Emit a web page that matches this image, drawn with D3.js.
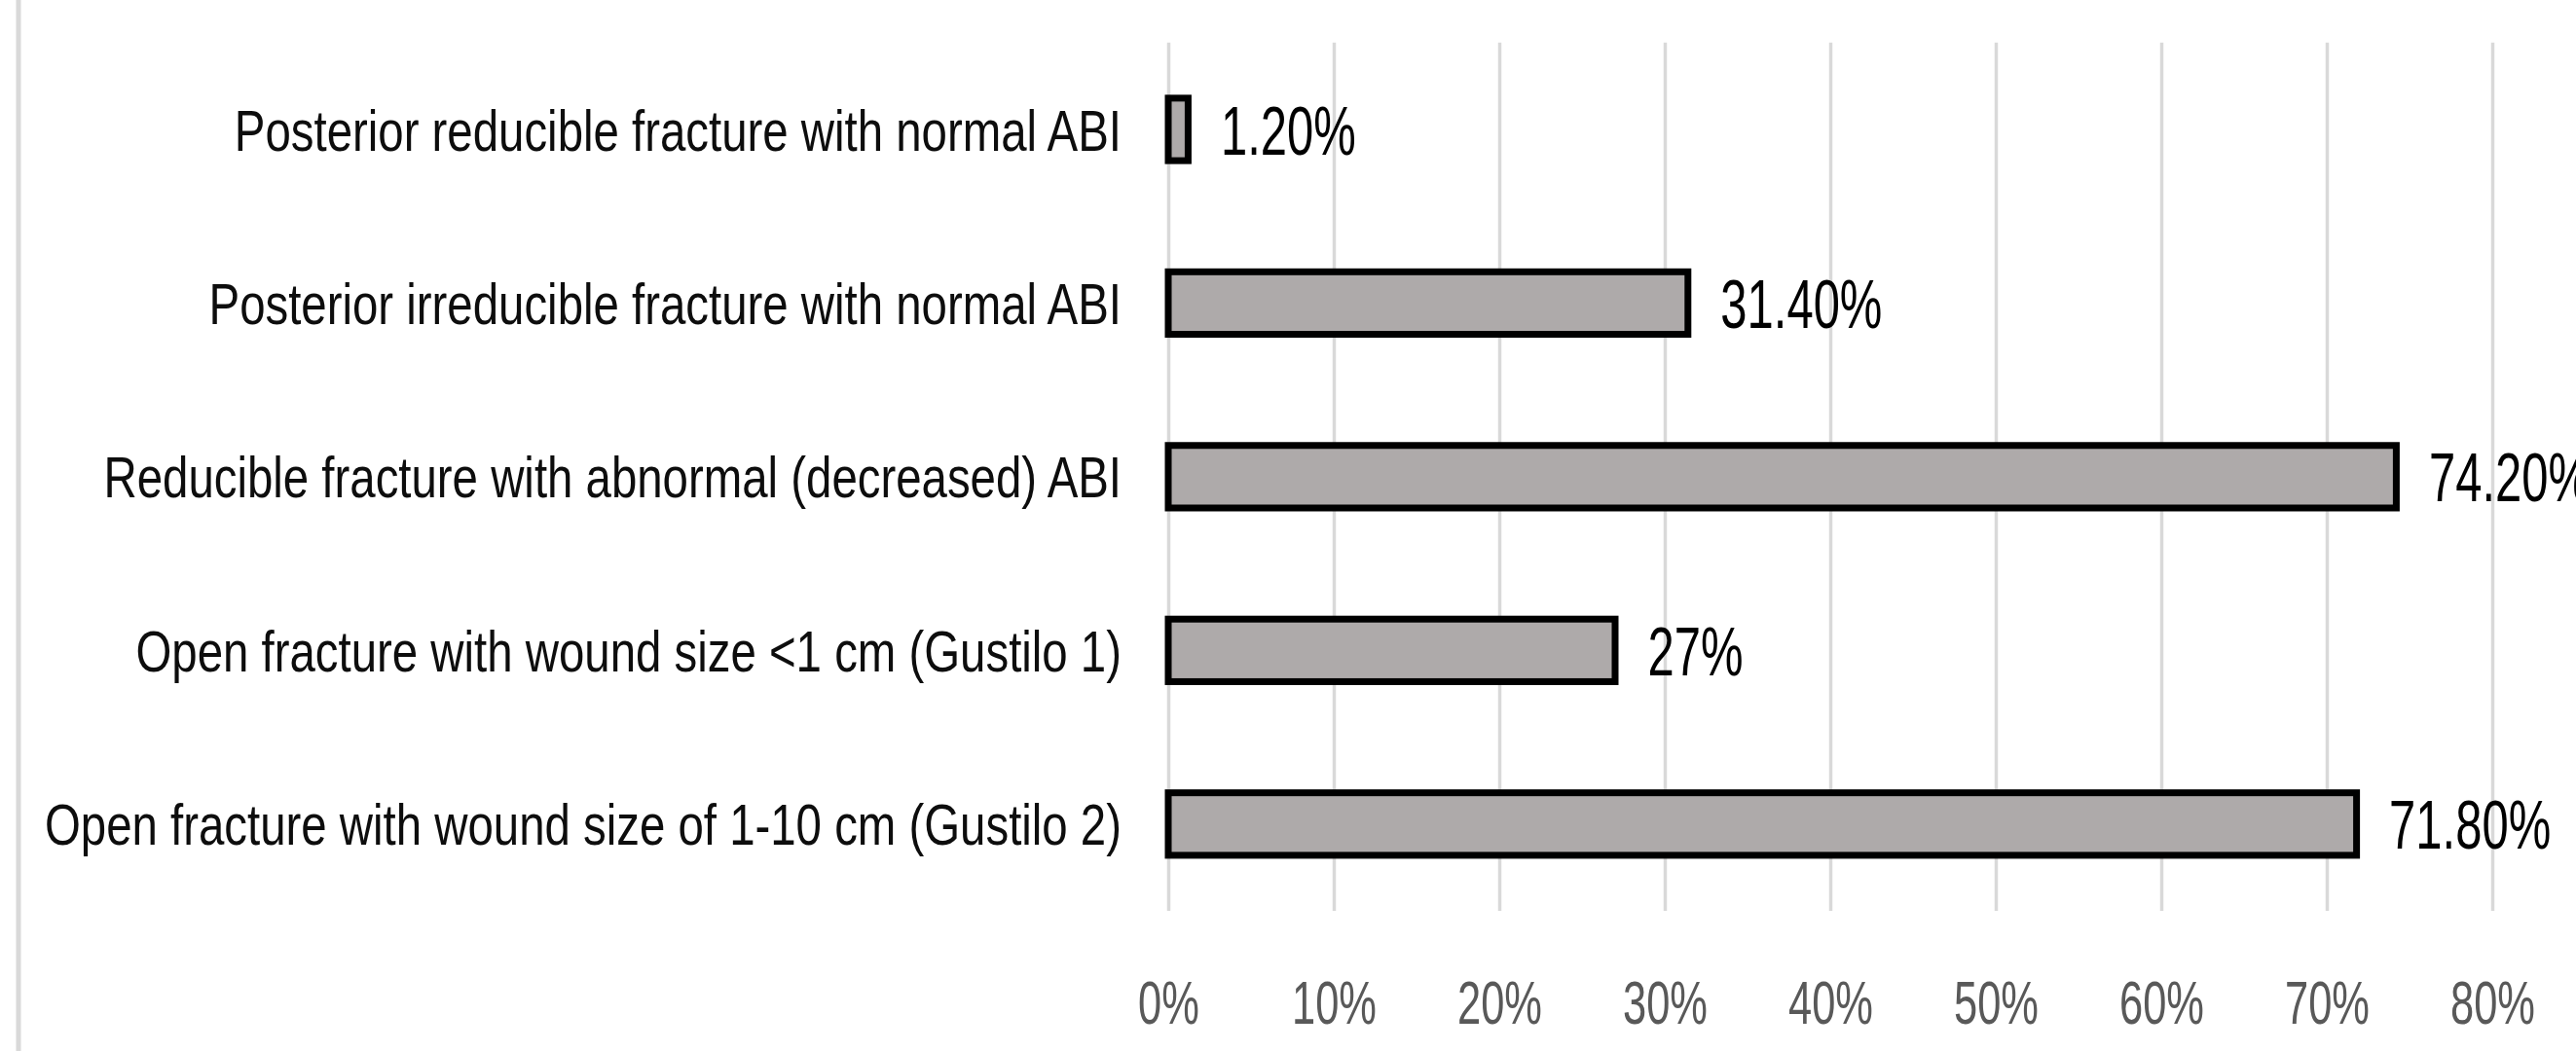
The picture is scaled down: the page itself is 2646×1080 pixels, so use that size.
<!DOCTYPE html>
<html lang="en">
<head>
	<meta charset="UTF-8"/>
	<title>Fracture types bar chart</title>
	<script src="https://d3js.org/d3.v7.min.js"></script>
	<style>
		body { margin: 0; background: #fff; }
		svg { display: block; font-family: "Liberation Sans", Arial, sans-serif; }
	</style>
</head>
<body>
	<script>
		var categories = [
			"Posterior reducible fracture with normal ABI",
			"Posterior irreducible fracture with normal ABI",
			"Reducible fracture with abnormal (decreased) ABI",
			"Open fracture with wound size <1 cm (Gustilo 1)",
			"Open fracture with wound size of 1-10 cm (Gustilo 2)"
		];
		var values = [1.2, 31.4, 74.2, 27, 71.8];
		var valueLabels = ["1.20%", "31.40%", "74.20%", "27%", "71.80%"];
		var xTicks = [0, 10, 20, 30, 40, 50, 60, 70, 80];

		var w = 2646;
		var h = 1080;
		var plotLeft = 1200, plotRight = 2560;
		var plotTop = 43.75, plotBottom = 936;
		var squeeze = 0.69;     // the original font is very condensed
		var catSqueeze = 0.79;

		var svg = d3.select("body")
					.append("svg")
					.attr("width", w)
					.attr("height", h);

		// light frame edge on the left
		svg.append("line")
			.attr("x1", 19).attr("x2", 19)
			.attr("y1", 0).attr("y2", h)
			.attr("stroke", "#d9d9d9")
			.attr("stroke-width", 5);

		var xScale = d3.scaleLinear()
					.domain([0, 80])
					.range([plotLeft, plotRight]);

		var yScale = d3.scaleBand()
					.domain(categories)
					.range([plotTop, plotBottom])
					.paddingInner(0.64)
					.paddingOuter(0.32);

		// vertical gridlines
		var grid = d3.axisBottom(xScale)
					.tickValues(xTicks)
					.tickSize(-(plotBottom - plotTop))
					.tickFormat("");

		svg.append("g")
			.attr("transform", "translate(0," + plotBottom + ")")
			.call(grid)
			.call(function(g){ g.select(".domain").remove(); })
			.selectAll("line")
			.attr("stroke", "#d9d9d9")
			.attr("stroke-width", 3.5);

		// x tick labels
		var xAxis = d3.axisBottom(xScale)
					.tickValues(xTicks)
					.tickSize(0)
					.tickFormat(function(d){ return d + "%"; });

		svg.append("g")
			.attr("transform", "translate(0," + plotBottom + ")")
			.call(xAxis)
			.call(function(g){ g.select(".domain").remove(); })
			.selectAll("text")
			.attr("y", 116)
			.attr("dy", 0)
			.attr("font-size", 63)
			.attr("font-family", "Liberation Sans, Arial, sans-serif")
			.attr("fill", "#595959")
			.attr("transform", "scale(" + squeeze + ",1)");

		// bars
		svg.selectAll("rect.bar")
			.data(values)
			.enter()
			.append("rect")
			.attr("class", "bar")
			.attr("x", xScale(0))
			.attr("y", function(d, i){ return yScale(categories[i]); })
			.attr("width", function(d){ return xScale(d) - xScale(0); })
			.attr("height", yScale.bandwidth())
			.attr("fill", "#aeaaaa")
			.attr("stroke", "#000")
			.attr("stroke-width", 7);

		// value labels
		svg.selectAll("text.value")
			.data(values)
			.enter()
			.append("text")
			.attr("class", "value")
			.attr("transform", function(d, i){
				var x = xScale(d) + 3.5 + 30;
				var y = yScale(categories[i]) + yScale.bandwidth() / 2;
				return "translate(" + x + "," + y + ") scale(" + squeeze + ",1)";
			})
			.attr("dy", "0.36em")
			.attr("font-size", 71)
			.attr("fill", "#000")
			.text(function(d, i){ return valueLabels[i]; });

		// category labels
		svg.selectAll("text.cat")
			.data(categories)
			.enter()
			.append("text")
			.attr("class", "cat")
			.attr("transform", function(d){
				var y = yScale(d) + yScale.bandwidth() / 2;
				return "translate(" + 1152 + "," + y + ") scale(" + catSqueeze + ",1)";
			})
			.attr("dy", "0.36em")
			.attr("text-anchor", "end")
			.attr("font-size", 60)
			.attr("fill", "#0d0d0d")
			.text(function(d){ return d; });
	</script>
</body>
</html>
